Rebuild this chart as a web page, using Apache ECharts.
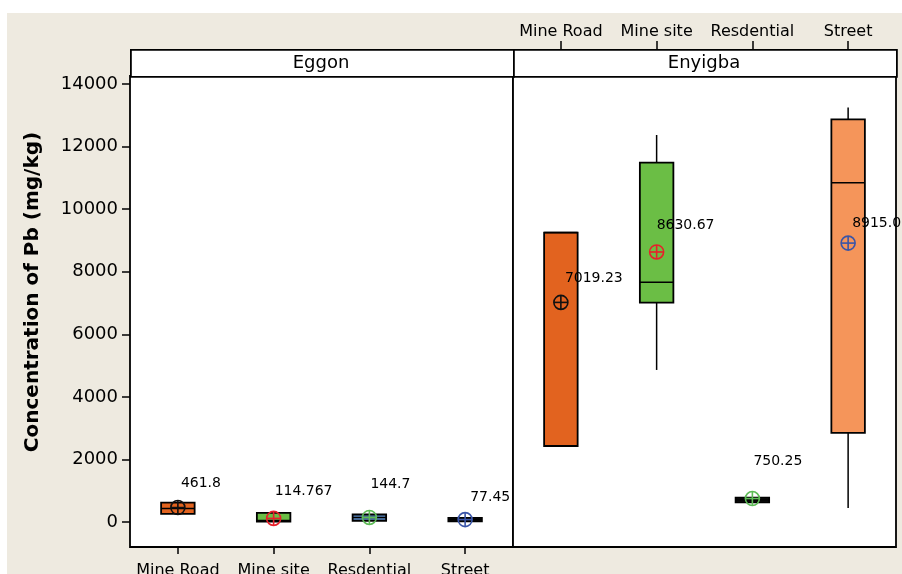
<!DOCTYPE html>
<html>
<head>
<meta charset="utf-8">
<script src="https://cdn.jsdelivr.net/npm/echarts@6/dist/echarts.min.js"></script>
<style>
  html, body { margin: 0; padding: 0; background: #fff; }
  #wrap { position: relative; width: 902px; height: 574px; overflow: hidden; }
  #bg { position: absolute; left: 7px; top: 13px; right: 0; bottom: 0; background: #EEEAE0; }
  #chart { position: absolute; left: 0; top: 0; width: 902px; height: 574px; }
</style>
</head>
<body>
<div id="wrap"><div id="bg"></div><div id="chart"></div></div>
<script>
// Sampling sites and the two study areas
const sites = ['Mine Road', 'Mine site', 'Resdential', 'Street'];
const panels = ['Eggon', 'Enyigba'];

// Box summaries per site: [min, Q1, median, Q3, max] (mg/kg)
const eggonBox = [
  [250, 260, 430, 620, 640],
  [10, 10, 50, 290, 290],
  [40, 40, 140, 240, 240],
  [20, 20, 70, 130, 130]
];
const enyigbaBox = [
  [2430, 2430, 9250, 9250, 9250],
  [4860, 7010, 7660, 11490, 12370],
  [630, 630, 700, 780, 780],
  [450, 2850, 10840, 12870, 13250]
];

// Mean concentration per site (mg/kg)
const eggonMean = [461.8, 114.767, 144.7, 77.45];
const enyigbaMean = [7019.23, 8630.67, 750.25, 8915.02];

// Value axis tick labels
const yTicks = [0, 2000, 4000, 6000, 8000, 10000, 12000, 14000];

// Styling
const FONT = 'DejaVu Sans';
const boxFill = [
  ['#E2631F', '#6BBE45', '#5B8BC6', '#111111'],
  ['#E2631F', '#6BBE45', '#111111', '#F5955A']
];
const meanColor = ['#111111', '#E8202A', '#5DBB55', '#3A55A8'];
// label offsets from the mean marker, px
const labelShift = [
  [[3, -24], [1, -27], [1, -33], [5, -22]],
  [[4, -24], [0, -27], [1, -37], [4, -20]]
];

const chart = echarts.init(document.getElementById('chart'), null, { renderer: 'canvas' });

const Y_MIN = -799, Y_MAX = 14256;

function boxRender(panel) {
  return function (params, api) {
    const i = api.value(0);
    const w = api.size([1, 0])[0] * 0.35;
    const pMin = api.coord([i, api.value(1)]);
    const pQ1 = api.coord([i, api.value(2)]);
    const pMed = api.coord([i, api.value(3)]);
    const pQ3 = api.coord([i, api.value(4)]);
    const pMax = api.coord([i, api.value(5)]);
    const x = pQ1[0];
    const line = { stroke: '#000', lineWidth: 1.5 };
    const children = [];
    if (pMax[1] < pQ3[1] - 0.5) {
      children.push({ type: 'line', shape: { x1: x, y1: pMax[1], x2: x, y2: pQ3[1] }, style: line });
    }
    if (pMin[1] > pQ1[1] + 0.5) {
      children.push({ type: 'line', shape: { x1: x, y1: pQ1[1], x2: x, y2: pMin[1] }, style: line });
    }
    children.push({
      type: 'rect',
      shape: { x: x - w / 2, y: pQ3[1], width: w, height: pQ1[1] - pQ3[1] },
      style: { fill: boxFill[panel][i], stroke: '#000', lineWidth: 1.8 }
    });
    children.push({ type: 'line', shape: { x1: x - w / 2, y1: pMed[1], x2: x + w / 2, y2: pMed[1] }, style: line });
    return { type: 'group', children: children };
  };
}

function meanRender(panel) {
  return function (params, api) {
    const i = api.value(0);
    const v = api.value(1);
    const p = api.coord([i, v]);
    const r = 7;
    const col = meanColor[i];
    const st = { stroke: col, lineWidth: 1.6, fill: null };
    const sh = labelShift[panel][i];
    return {
      type: 'group',
      children: [
        { type: 'circle', shape: { cx: p[0], cy: p[1], r: r }, style: st },
        { type: 'line', shape: { x1: p[0] - r, y1: p[1], x2: p[0] + r, y2: p[1] }, style: st },
        { type: 'line', shape: { x1: p[0], y1: p[1] - r, x2: p[0], y2: p[1] + r }, style: st },
        {
          type: 'text',
          style: {
            x: p[0] + sh[0], y: p[1] + sh[1],
            text: String(v), fill: '#000',
            font: '14px "' + FONT + '"', align: 'left', verticalAlign: 'middle'
          }
        }
      ]
    };
  };
}

const boxData = [eggonBox, enyigbaBox].map(arr => arr.map((b, i) => [i].concat(b)));
const meanData = [eggonMean, enyigbaMean].map(arr => arr.map((m, i) => [i, m]));

const yAxisBase = {
  type: 'value', min: Y_MIN, max: Y_MAX,
  splitLine: { show: false },
  axisLine: { show: false }
};

const gridBase = {
  top: 76, bottom: 27, show: true, backgroundColor: '#fff',
  borderColor: '#000', borderWidth: 1.8,
  containLabel: false, outerBoundsMode: 'none'
};

const option = {
  backgroundColor: 'transparent',
  animation: false,
  grid: [
    Object.assign({ left: 130, right: 389 }, gridBase),
    Object.assign({ left: 513, right: 6 }, gridBase)
  ],
  xAxis: [
    {
      gridIndex: 0, type: 'category', data: sites, position: 'bottom',
      axisLine: { show: false, onZero: false },
      axisTick: { show: true, alignWithLabel: true, length: 7, lineStyle: { color: '#000', width: 1.5 } },
      axisLabel: { color: '#000', fontFamily: FONT, fontSize: 16, margin: 16, interval: 0 }
    },
    {
      gridIndex: 1, type: 'category', data: sites, position: 'top', offset: 27,
      axisLine: { show: false, onZero: false },
      axisTick: { show: true, alignWithLabel: true, length: 8, lineStyle: { color: '#000', width: 1.5 } },
      axisLabel: { color: '#000', fontFamily: FONT, fontSize: 16, margin: 9, interval: 0 }
    }
  ],
  yAxis: [
    Object.assign({}, yAxisBase, {
      gridIndex: 0,
      axisTick: { show: true, length: 8, customValues: yTicks, lineStyle: { color: '#000', width: 1.5 } },
      axisLabel: {
        show: true, customValues: yTicks, color: '#000', fontFamily: FONT, fontSize: 18, margin: 12,
        formatter: v => String(v)
      }
    }),
    Object.assign({}, yAxisBase, {
      gridIndex: 1,
      axisTick: { show: false },
      axisLabel: { show: false }
    })
  ],
  graphic: [
    { type: 'rect', left: 130, top: 49, shape: { width: 383, height: 27 }, style: { fill: '#fff', stroke: '#000', lineWidth: 1.8 } },
    { type: 'rect', left: 513, top: 49, shape: { width: 383, height: 27 }, style: { fill: '#fff', stroke: '#000', lineWidth: 1.8 } },
    { type: 'text', x: 321, y: 63, style: { text: panels[0], font: '18px "' + FONT + '"', fill: '#000', align: 'center', verticalAlign: 'middle' } },
    { type: 'text', x: 704, y: 63, style: { text: panels[1], font: '18px "' + FONT + '"', fill: '#000', align: 'center', verticalAlign: 'middle' } },
    {
      type: 'text', x: 33, y: 292, rotation: Math.PI / 2,
      style: { text: 'Concentration of Pb (mg/kg)', font: 'bold 20px "' + FONT + '"', fill: '#000', align: 'center', verticalAlign: 'middle' }
    }
  ],
  series: [0, 1].flatMap(k => [
    {
      type: 'custom', xAxisIndex: k, yAxisIndex: k, clip: false,
      renderItem: boxRender(k), data: boxData[k], z: 2
    },
    {
      type: 'custom', xAxisIndex: k, yAxisIndex: k, clip: false,
      renderItem: meanRender(k), data: meanData[k], z: 3
    }
  ])
};

chart.setOption(option);
</script>
</body>
</html>
